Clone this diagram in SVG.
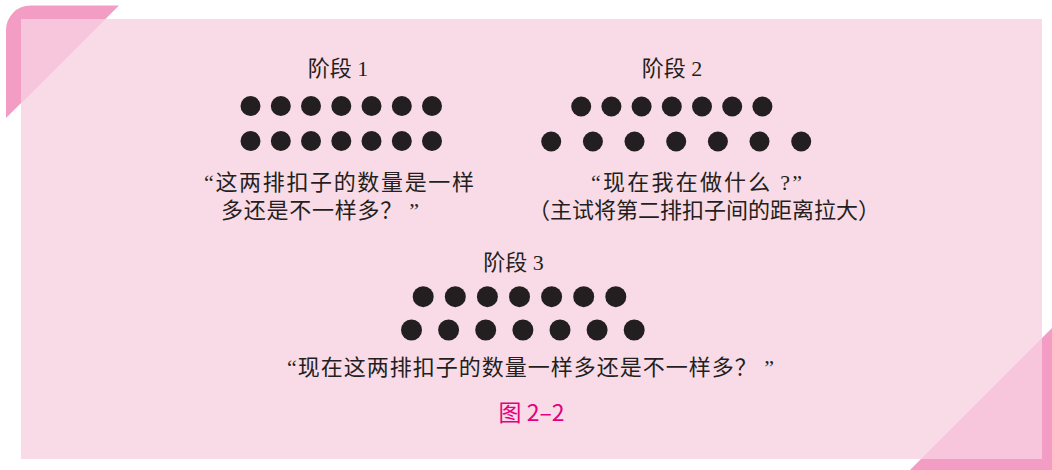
<svg xmlns="http://www.w3.org/2000/svg" width="1052" height="470" viewBox="0 0 1052 470">
<style>
.t{font-family:"Liberation Serif","Noto Sans CJK SC",serif;fill:#231f20;}
.h{font-size:22px;}
.b{font-size:22px;}
.d{fill:#231f20;}
.cap{font-family:"Noto Sans CJK SC","Liberation Sans",sans-serif;font-size:23px;fill:#e4007f;}
</style>
<rect width="1052" height="470" fill="#ffffff"/>
<path d="M6,118 L6,30 A24.5,24.5 0 0 1 30.5,5.5 L119,5.5 Z" fill="#f39dc4"/>
<path d="M1052,328 L1052,470 L910,470 Z" fill="#f39dc4"/>
<rect x="21" y="19" width="1021" height="440" fill="#f9dbe7"/>
<path d="M21,19 L105.5,19 L21,103.5 Z" fill="#f7c6dc"/>
<path d="M1042,338 L1042,459 L921,459 Z" fill="#f7c6dc"/>

<g id="stage1">
<text class="t h" x="338" y="76" text-anchor="middle">阶段 1</text>
<g class="d">
<circle cx="250.5" cy="106" r="10"/><circle cx="280.8" cy="106" r="10"/><circle cx="311" cy="106" r="10"/><circle cx="341.3" cy="106" r="10"/><circle cx="371.5" cy="106" r="10"/><circle cx="401.8" cy="106" r="10"/><circle cx="432" cy="106" r="10"/>
<circle cx="250.5" cy="141" r="10"/><circle cx="280.8" cy="141" r="10"/><circle cx="311" cy="141" r="10"/><circle cx="341.3" cy="141" r="10"/><circle cx="371.5" cy="141" r="10"/><circle cx="401.8" cy="141" r="10"/><circle cx="432" cy="141" r="10"/>
</g>
<text class="t b" x="204" y="190" textLength="270" lengthAdjust="spacing">“这两排扣子的数量是一样</text>
<text class="t b" x="221" y="218" textLength="198" lengthAdjust="spacing">多还是不一样多？ ”</text>
</g>

<g id="stage2">
<text class="t h" x="672" y="76" text-anchor="middle">阶段 2</text>
<g class="d">
<circle cx="581.2" cy="106.5" r="10"/><circle cx="611.4" cy="106.5" r="10"/><circle cx="641.6" cy="106.5" r="10"/><circle cx="671.8" cy="106.5" r="10"/><circle cx="702" cy="106.5" r="10"/><circle cx="732.2" cy="106.5" r="10"/><circle cx="762.4" cy="106.5" r="10"/>
<circle cx="551.2" cy="141.5" r="10"/><circle cx="592.9" cy="141.5" r="10"/><circle cx="634.5" cy="141.5" r="10"/><circle cx="676.2" cy="141.5" r="10"/><circle cx="717.9" cy="141.5" r="10"/><circle cx="759.5" cy="141.5" r="10"/><circle cx="801.2" cy="141.5" r="10"/>
</g>
<text class="t b" x="591" y="190" textLength="211" lengthAdjust="spacing">“现在我在做什么 ?”</text>
<text class="t b" x="704" y="218" text-anchor="middle">（主试将第二排扣子间的距离拉大）</text>
</g>

<g id="stage3">
<text class="t h" x="513.5" y="270" text-anchor="middle">阶段 3</text>
<g class="d">
<circle cx="423.2" cy="296.7" r="10.5"/><circle cx="455.3" cy="296.7" r="10.5"/><circle cx="487.4" cy="296.7" r="10.5"/><circle cx="519.5" cy="296.7" r="10.5"/><circle cx="551.6" cy="296.7" r="10.5"/><circle cx="583.7" cy="296.7" r="10.5"/><circle cx="615.8" cy="296.7" r="10.5"/>
<circle cx="411.5" cy="330" r="10.5"/><circle cx="448.6" cy="330" r="10.5"/><circle cx="485.7" cy="330" r="10.5"/><circle cx="522.9" cy="330" r="10.5"/><circle cx="560" cy="330" r="10.5"/><circle cx="597.1" cy="330" r="10.5"/><circle cx="634.2" cy="330" r="10.5"/>
</g>
<text class="t b" x="287" y="375" textLength="487" lengthAdjust="spacing">“现在这两排扣子的数量一样多还是不一样多？ ”</text>
</g>

<g id="caption">
<text class="cap" x="531.5" y="421" text-anchor="middle">图 2–2</text>
</g>
</svg>
